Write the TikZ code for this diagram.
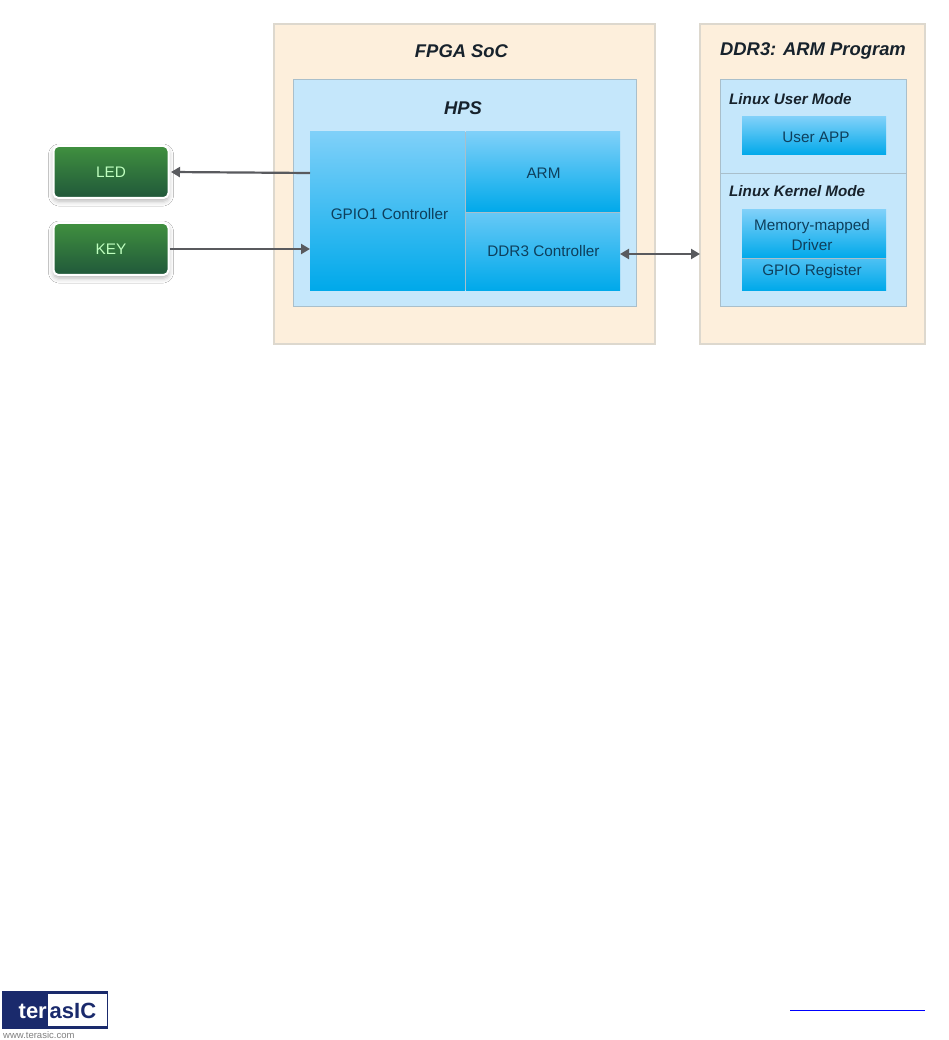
\documentclass[tikz,border=0pt]{standalone}
\usepackage{fontspec}
\setmainfont{Liberation Sans}
\usetikzlibrary{arrows.meta,shadows.blur,shapes.misc}
\definecolor{peach}{HTML}{FDEFDC}
\definecolor{peachline}{HTML}{DDD8CE}
\definecolor{pale}{HTML}{C5E7FB}
\definecolor{paleline}{HTML}{A9BFCB}
\definecolor{bluetop}{HTML}{7FD0F9}
\definecolor{bluebot}{HTML}{00A9EA}
\definecolor{greentop}{HTML}{40903F}
\definecolor{greenbot}{HTML}{20583A}
\definecolor{arrowgrey}{HTML}{595A5E}
\definecolor{ink}{HTML}{17222C}
\definecolor{bluetext}{HTML}{0E3F5C}
\definecolor{navy}{HTML}{1A2A6C}
\tikzset{
  x=1pt,y=-1pt,
  outerbox/.style={draw=peachline,line width=1.2pt,fill=peach},
  palebox/.style={draw=paleline,line width=1pt,fill=pale},
  gradbox/.style={top color=bluetop,bottom color=bluebot,draw=none},
  title/.style={font=\fontsize{18.4}{20}\selectfont\bfseries\itshape,text=ink,inner sep=0pt},
  subtitle/.style={font=\fontsize{15.2}{17}\selectfont\bfseries\itshape,text=ink,inner sep=0pt},
  lbl/.style={font=\fontsize{15.3}{20}\selectfont,text=bluetext,inner sep=0pt,align=center},
  btn/.style={rounded corners=5pt,top color=greentop,bottom color=greenbot,draw=white,line width=2pt,
    blur shadow={shadow xshift=0pt,shadow yshift=-3pt,shadow blur radius=5pt,shadow opacity=30},
    minimum width=115pt,minimum height=52pt,inner sep=0pt,font=\fontsize{15.3}{18}\selectfont,text=white!75!green},
  conn/.style={draw=arrowgrey,line width=2.2pt,-{Triangle[length=9pt,width=10pt]}},
  connb/.style={draw=arrowgrey,line width=2.2pt,{Triangle[length=9pt,width=10pt]}-{Triangle[length=9pt,width=10pt]}},
  sep/.style={draw=paleline,line width=1pt},
}
\begin{document}
\begin{tikzpicture}
\useasboundingbox (0,0) rectangle (948,1040);
\fill[white] (0,0) rectangle (948,1040);
% outer boxes
\path[outerbox] (274,24) rectangle (655,344);
\path[outerbox] (700,24) rectangle (925,344);
\node[title] (fpga) at (461.5,51) {FPGA SoC};
\node[title] (ddrt) at (813,51) {DDR3: ARM Program};
% HPS
\path[palebox] (293,80) rectangle (636,306);
\node[title] (hps) at (463,108) {HPS};
\shade[gradbox] (310,132) rectangle (465,290);
\shade[gradbox] (466,132) rectangle (620,212);
\shade[top color=bluetop!80!bluebot,bottom color=bluebot] (466,213) rectangle (620,290);
\coordinate (gpioL) at (310,173);
\coordinate (gpioK) at (310,249);
\coordinate (ddrR) at (620,254);
\coordinate (armP) at (700,254);
\draw[paleline,line width=.8pt] (465.5,132) -- (465.5,290);
\draw[paleline,line width=.8pt] (466,212.5) -- (620,212.5);
\node[lbl] (gpio) at (389.5,214) {GPIO1 Controller};
\node[lbl] (arm) at (543.5,173) {ARM};
\node[lbl] (ddrc) at (543.5,251) {DDR3 Controller};
% right
\path[palebox] (720,80) rectangle (906,306);
\draw[sep] (720,174) -- (906,174);
\node[subtitle,anchor=west] (lum) at (729,99) {Linux User Mode};
\node[subtitle,anchor=west] (lkm) at (729,191) {Linux Kernel Mode};
\shade[gradbox] (742,117) rectangle (886,155);
\node[lbl] (app) at (816,137) {User APP};
\shade[gradbox] (742,210) rectangle (886,258);
\shade[top color=bluetop!60!bluebot,bottom color=bluebot] (742,259) rectangle (886,290);
\draw[paleline,line width=.8pt] (742,258.5) -- (886,258.5);
\node[lbl,text width=140pt] (mem) at (812,235.5) {Memory-mapped\\Driver};
\node[lbl] (gr) at (812,272) {GPIO Register};
% green
\node[btn] (led) at (111,172) {LED};
\node[btn] (key) at (111,249) {KEY};
% connectors
\draw[conn] (gpioL) -- (led.east -| 171,173);
\draw[conn] (key.east |- gpioK) -- (gpioK);
\draw[connb] (ddrR) -- (armP);
% logo
\fill[navy] (2,991) rectangle (108,1029);
\fill[white] (48,994) rectangle (106.5,1026);
\node[inner sep=0pt,font=\fontsize{22}{24}\selectfont\bfseries,text=white,anchor=east] (ter) at (47,1011) {ter};
\node[inner sep=0pt,font=\fontsize{22}{24}\selectfont\bfseries,text=navy,anchor=west] (asic) at (49.5,1011) {asIC};
\node[inner sep=0pt,font=\fontsize{9.5}{11}\selectfont,text=gray,anchor=west] (www) at (3,1035) {www.terasic.com};
% link underline
\coordinate (ula) at (790,1010.5);
\coordinate (ulb) at (925,1010.5);
\draw[blue,line width=1.3pt] (ula) -- (ulb);
\end{tikzpicture}
\end{document}
